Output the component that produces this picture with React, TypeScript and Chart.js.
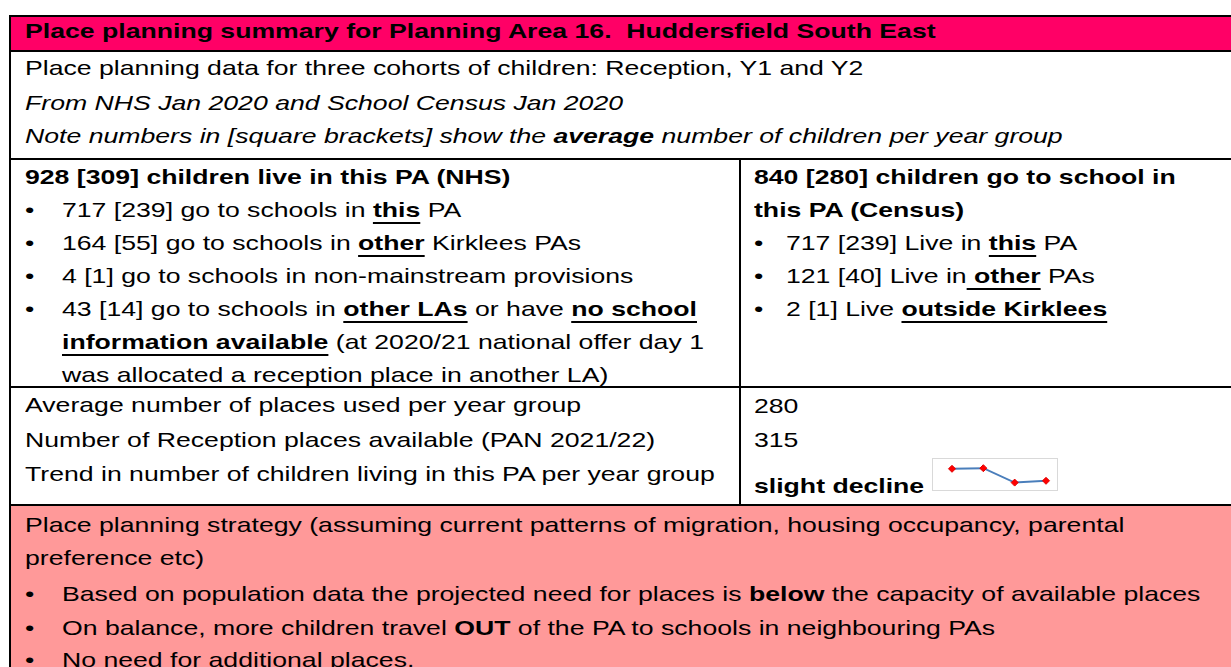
import React, { useEffect, useRef } from "react";
import { Chart, registerables } from "chart.js";

Chart.register(...registerables);

// Sparkline data: trend in number of children living in this PA per year group
const trendLabels = ["Cohort 1", "Cohort 2", "Cohort 3", "Cohort 4"];
const trendValues = [318, 319, 295, 298];
const trendMin = 291;
const trendMax = 326;

const F = 20.4; // vertical font size
const SX = 1.306; // horizontal stretch of the reference rendering
const FONT = '"Liberation Sans", Arial, sans-serif';

type TP = { x: number; y: number; b?: boolean; i?: boolean; children?: React.ReactNode };

function T({ x, y, b, i, children }: TP) {
  return (
    <div
      style={{
        position: "absolute",
        left: x,
        top: y - 0.8465 * F,
        fontSize: F,
        lineHeight: `${F}px`,
        fontWeight: b ? "bold" : "normal",
        fontStyle: i ? "italic" : "normal",
        whiteSpace: "pre",
        transform: `scaleX(${SX})`,
        transformOrigin: "0 0",
        color: "#000",
      }}
    >
      {children}
    </div>
  );
}

const U = ({ children }: { children: React.ReactNode }) => (
  <span
    style={{
      fontWeight: "bold",
      textDecorationLine: "underline",
      textDecorationThickness: "2px",
      textUnderlineOffset: "5px",
    }}
  >
    {children}
  </span>
);

const B = ({ children }: { children: React.ReactNode }) => <span style={{ fontWeight: "bold" }}>{children}</span>;

function Rect({ x, y, w, h, c }: { x: number; y: number; w: number; h: number; c: string }) {
  return <div style={{ position: "absolute", left: x, top: y, width: w, height: h, background: c }} />;
}

function Sparkline() {
  const ref = useRef<HTMLCanvasElement | null>(null);
  useEffect(() => {
    if (!ref.current) return;
    const chart = new Chart(ref.current, {
      type: "line",
      data: {
        labels: trendLabels,
        datasets: [
          {
            data: trendValues,
            borderColor: "#4a7ebb",
            borderWidth: 2,
            tension: 0,
            fill: false,
            clip: false as any,
            pointStyle: "rectRot",
            pointRadius: 3.5,
            pointBackgroundColor: "#ff0000",
            pointBorderColor: "#e00000",
            pointBorderWidth: 1,
          },
        ],
      },
      options: {
        animation: false,
        responsive: false,
        devicePixelRatio: 1,
        events: [],
        layout: { padding: { left: 19, right: 11, top: 0, bottom: 0 } },
        plugins: { legend: { display: false }, tooltip: { enabled: false } },
        scales: {
          x: { display: false },
          y: { display: false, min: trendMin, max: trendMax },
        },
      },
    });
    return () => chart.destroy();
  }, []);
  return (
    <div
      style={{
        position: "absolute",
        left: 932,
        top: 458,
        width: 126,
        height: 33,
        border: "1px solid #d9d9d9",
        boxSizing: "border-box",
        background: "#fff",
      }}
    >
      <canvas ref={ref} width={124} height={31} style={{ display: "block", width: 124, height: 31 }} />
    </div>
  );
}

export default function App() {
  const L = 24.5;
  const LB = 25.2;
  const LT = 62;
  const R = 754;
  const RB = 753.5;
  const RT = 786;
  return (
    <div
      style={{
        position: "fixed",
        left: 0,
        top: 0,
        width: 1231,
        height: 667,
        overflow: "hidden",
        background: "#fff",
        fontFamily: FONT,
      }}
    >
      {/* fills */}
      <Rect x={11} y={17} w={1230} h={33} c="#ff0066" />
      <Rect x={11} y={506} w={1230} h={170} c="#ff9999" />
      {/* borders */}
      <Rect x={9} y={15} w={1240} h={2} c="#000" />
      <Rect x={9} y={50} w={1240} h={2} c="#000" />
      <Rect x={9} y={158} w={1240} h={2} c="#000" />
      <Rect x={9} y={386} w={1240} h={2} c="#000" />
      <Rect x={9} y={504} w={1240} h={2} c="#000" />
      <Rect x={9} y={15} w={2} h={670} c="#000" />
      <Rect x={739} y={158} w={2} h={348} c="#000" />

      {/* title */}
      <T x={L} y={38.7} b>
        Place planning summary for Planning Area 16.  Huddersfield South East
      </T>

      {/* intro */}
      <T x={L} y={75.3}>Place planning data for three cohorts of children: Reception, Y1 and Y2</T>
      <T x={L} y={110.7} i>
        From NHS Jan 2020 and School Census Jan 2020
      </T>
      <T x={L} y={143.5} i>
        Note numbers in [square brackets] show the <B>average</B> number of children per year group
      </T>

      {/* left column */}
      <T x={L} y={184.3} b>
        928 [309] children live in this PA (NHS)
      </T>
      <T x={LB} y={217}>•</T>
      <T x={LT} y={217}>
        717 [239] go to schools in <U>this</U> PA
      </T>
      <T x={LB} y={250}>•</T>
      <T x={LT} y={250}>
        164 [55] go to schools in <U>other</U> Kirklees PAs
      </T>
      <T x={LB} y={283}>•</T>
      <T x={LT} y={283}>4 [1] go to schools in non-mainstream provisions</T>
      <T x={LB} y={316}>•</T>
      <T x={LT} y={316}>
        43 [14] go to schools in <U>other LAs</U> or have <U>no school</U>
      </T>
      <T x={LT} y={349}>
        <U>information available</U> (at 2020/21 national offer day 1
      </T>
      <T x={LT} y={382}>was allocated a reception place in another LA)</T>

      {/* right column */}
      <T x={R} y={184.3} b>
        840 [280] children go to school in
      </T>
      <T x={R} y={217} b>
        this PA (Census)
      </T>
      <T x={RB} y={250}>•</T>
      <T x={RT} y={250}>
        717 [239] Live in <U>this</U> PA
      </T>
      <T x={RB} y={283}>•</T>
      <T x={RT} y={283}>
        121 [40] Live in<U> other</U> PAs
      </T>
      <T x={RB} y={316}>•</T>
      <T x={RT} y={316}>
        2 [1] Live <U>outside Kirklees</U>
      </T>

      {/* metrics */}
      <T x={L} y={412.5}>Average number of places used per year group</T>
      <T x={L} y={447}>Number of Reception places available (PAN 2021/22)</T>
      <T x={L} y={481.5}>Trend in number of children living in this PA per year group</T>
      <T x={R} y={413}>280</T>
      <T x={R} y={447}>315</T>
      <T x={R} y={493} b>
        slight decline
      </T>
      <Sparkline />

      {/* strategy */}
      <T x={L} y={532}>
        Place planning strategy (assuming current patterns of migration, housing occupancy, parental
      </T>
      <T x={L} y={565.7}>preference etc)</T>
      <T x={LB} y={601.7}>•</T>
      <T x={LT} y={601.7}>
        Based on population data the projected need for places is <B>below</B> the capacity of available places
      </T>
      <T x={LB} y={635}>•</T>
      <T x={LT} y={635}>
        On balance, more children travel <B>OUT</B> of the PA to schools in neighbouring PAs
      </T>
      <T x={LB} y={667.5}>•</T>
      <T x={LT} y={667.5}>No need for additional places.</T>
    </div>
  );
}
